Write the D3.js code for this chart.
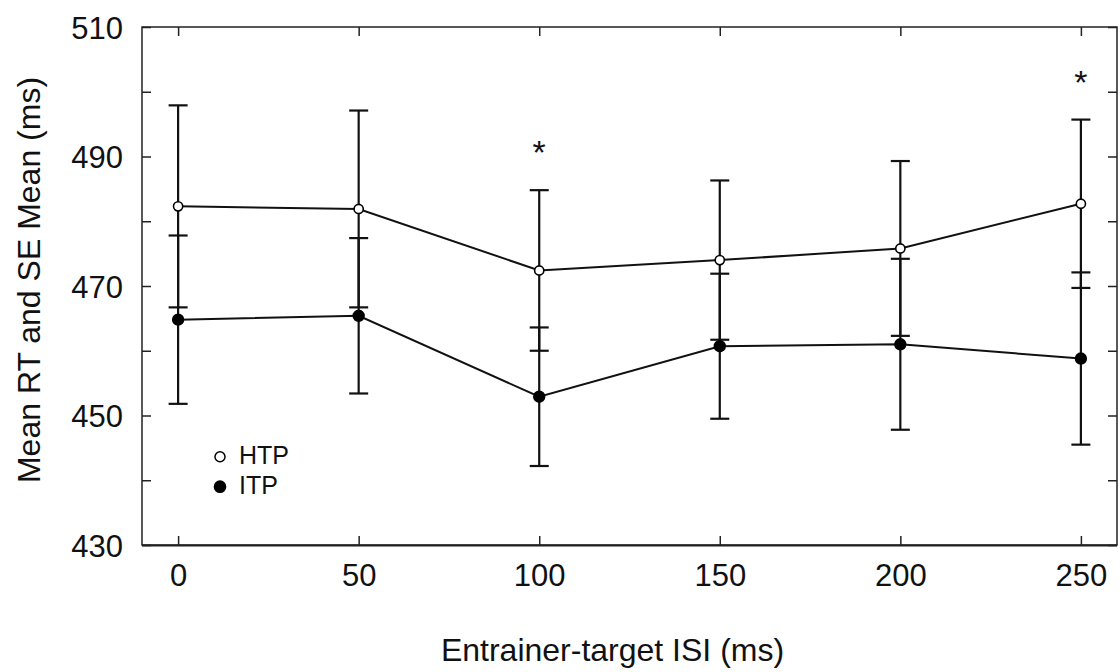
<!DOCTYPE html>
<html>
<head>
<meta charset="utf-8">
<script src="https://cdn.jsdelivr.net/npm/d3@7/dist/d3.min.js"></script>
<style>
  html, body { margin: 0; padding: 0; background: #fff; }
  svg { display: block; }
  text { font-family: "Liberation Sans", Arial, Helvetica, sans-serif; fill: #111; }
</style>
</head>
<body>
<svg id="chart" width="1120" height="672"></svg>
<script>
// Entrainer-target ISI conditions (ms)
const isi = [0, 50, 100, 150, 200, 250];

// Mean RT and standard error per condition
const htpMean = [482.3, 481.9, 472.4, 474.0, 475.8, 482.7];
const htpSE   = [15.6, 15.2, 12.4, 12.3, 13.5, 13.0];
const itpMean = [464.8, 465.4, 452.9, 460.7, 461.0, 458.8];
const itpSE   = [13.0, 12.0, 10.7, 11.2, 13.2, 13.3];

// Conditions marked as significant
const sigISI = [100, 250];

// Axis ticks
const xTicks = [0, 50, 100, 150, 200, 250];
const yTicks = [430, 440, 450, 460, 470, 480, 490, 500, 510];
const yLabels = [430, 450, 470, 490, 510];

const svg = d3.select("#chart");
const L = 142, R = 1117, T = 27, B = 545;

const x = d3.scaleLinear().domain([-10, 260]).range([L, R]);
const y = d3.scaleLinear().domain([430, 510]).range([B, T]);

const tickLen = 9;
const axisColor = "#222";

// Frame with inward ticks on all four sides
const gBottom = svg.append("g").attr("transform", `translate(0,${B})`)
  .call(d3.axisBottom(x).tickValues(xTicks).tickSizeInner(-tickLen).tickSizeOuter(0));
const gTop = svg.append("g").attr("transform", `translate(0,${T})`)
  .call(d3.axisTop(x).tickValues(xTicks).tickSizeInner(-tickLen).tickSizeOuter(0).tickFormat(""));
const gLeft = svg.append("g").attr("transform", `translate(${L},0)`)
  .call(d3.axisLeft(y).tickValues(yTicks).tickSizeInner(-tickLen).tickSizeOuter(0)
    .tickPadding(19).tickFormat(d => yLabels.includes(d) ? d : ""));
const gRight = svg.append("g").attr("transform", `translate(${R},0)`)
  .call(d3.axisRight(y).tickValues(yTicks).tickSizeInner(-tickLen).tickSizeOuter(0).tickFormat(""));

[gBottom, gTop, gLeft, gRight].forEach(g => {
  g.select(".domain").remove();
  g.selectAll(".tick line").attr("stroke", axisColor).attr("stroke-width", 1.5);
  g.selectAll("text").attr("font-size", 31).attr("fill", "#111")
    .style("font-family", "'Liberation Sans', Arial, sans-serif");
});
gBottom.selectAll("text").attr("dy", null).attr("y", 41);
gLeft.selectAll("text").attr("dy", "0.36em");

// Box outline
svg.append("rect")
  .attr("x", L).attr("y", T).attr("width", R - L).attr("height", B - T)
  .attr("fill", "none").attr("stroke", axisColor).attr("stroke-width", 1.5);
svg.append("line")
  .attr("x1", L).attr("x2", R).attr("y1", B + 0.5).attr("y2", B + 0.5)
  .attr("stroke", axisColor).attr("stroke-width", 2);

// Axis titles
svg.append("text")
  .attr("x", (L + R) / 2 - 17).attr("y", 661)
  .attr("text-anchor", "middle").attr("font-size", 32)
  .text("Entrainer-target ISI (ms)");
svg.append("text")
  .attr("transform", "translate(40,280) rotate(-90)")
  .attr("text-anchor", "middle").attr("font-size", 32)
  .text("Mean RT and SE Mean (ms)");

const series = [
  { name: "HTP", mean: htpMean, se: htpSE, fill: "#fff" },
  { name: "ITP", mean: itpMean, se: itpSE, fill: "#000" }
];

const capHalf = 9.5;
const ink = "#111";

// Error bars
series.forEach(s => {
  const g = svg.append("g");
  isi.forEach((v, i) => {
    const hi = y(s.mean[i] + s.se[i]), lo = y(s.mean[i] - s.se[i]), cx = x(v);
    g.append("line").attr("x1", cx).attr("x2", cx).attr("y1", hi).attr("y2", lo)
      .attr("stroke", ink).attr("stroke-width", 2.2);
    [hi, lo].forEach(yy => g.append("line")
      .attr("x1", cx - capHalf).attr("x2", cx + capHalf).attr("y1", yy).attr("y2", yy)
      .attr("stroke", ink).attr("stroke-width", 2.2));
  });
});

// Connecting lines
const line = d3.line().x(d => x(d[0])).y(d => y(d[1]));
series.forEach(s => {
  svg.append("path")
    .attr("d", line(isi.map((v, i) => [v, s.mean[i]])))
    .attr("fill", "none").attr("stroke", ink).attr("stroke-width", 2);
});

// Markers
series.forEach(s => {
  svg.append("g").selectAll("circle").data(isi).join("circle")
    .attr("cx", d => x(d)).attr("cy", (d, i) => y(s.mean[i]))
    .attr("r", s.fill === "#fff" ? 4.6 : 5.4)
    .attr("fill", s.fill).attr("stroke", "#000").attr("stroke-width", 1.6);
});

// Significance asterisks above the HTP error bars
sigISI.forEach(v => {
  const i = isi.indexOf(v);
  const top = y(htpMean[i] + htpSE[i]);
  svg.append("text")
    .attr("x", x(v)).attr("y", top - 26)
    .attr("text-anchor", "middle").attr("font-size", 34)
    .text("*");
});

// Legend
const legend = svg.append("g");
series.forEach((s, k) => {
  const cy = 456.7 + k * 30;
  legend.append("circle").attr("cx", 220).attr("cy", cy)
    .attr("r", s.fill === "#fff" ? 5 : 5.6)
    .attr("fill", s.fill).attr("stroke", "#000").attr("stroke-width", 1.5);
  legend.append("text").attr("x", 239).attr("y", cy + 6.8)
    .attr("font-size", 25).text(s.name);
});
</script>
</body>
</html>
